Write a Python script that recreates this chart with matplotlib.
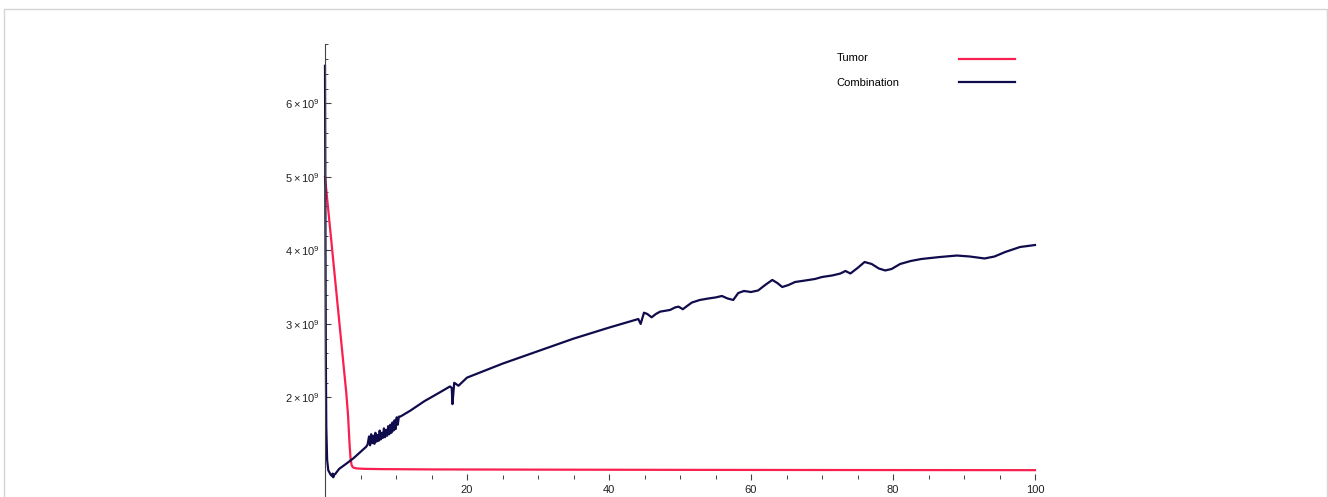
import matplotlib.pyplot as plt
from matplotlib.lines import Line2D
from matplotlib.patches import Rectangle
from matplotlib.ticker import FixedLocator, FuncFormatter

plt.rcParams['font.family'] = ['Liberation Sans', 'DejaVu Sans']
plt.rcParams['mathtext.fontset'] = 'custom'
plt.rcParams['mathtext.rm'] = 'Liberation Sans'
plt.rcParams['mathtext.it'] = 'Liberation Sans'

# time (days) and cell counts (units of 1e9)
tumor_t = [0, 1.0, 2.0, 3.0, 3.25, 3.45, 3.6, 3.75, 3.9, 4.1, 4.5, 5.5, 8, 15, 30, 50, 70, 100]
tumor_v = [5.0, 4.02, 3.04, 2.06, 1.75, 1.38, 1.17, 1.08, 1.055, 1.043, 1.035, 1.03, 1.026,
           1.022, 1.019, 1.016, 1.014, 1.012]

combo_t = [0, 0.03, 0.07, 0.12, 0.18, 0.3, 0.46, 0.8, 1.0, 1.08, 1.17, 1.25, 1.41, 2.0, 3.0, 4.0,
           5.0, 5.8, 6.0, 6.2, 6.35, 6.5, 6.65, 6.8, 6.95, 7.1, 7.25, 7.4, 7.55, 7.7, 7.85, 8.0,
           8.15, 8.3, 8.45, 8.6, 8.75, 8.9, 9.05, 9.2, 9.35, 9.5, 9.65, 9.8, 9.95, 10.1, 10.25,
           10.4, 10.6, 12, 14, 16, 17.6, 17.85, 17.95, 18.2, 18.8, 20, 25, 30, 35, 40, 44.13,
           44.46, 44.93, 45.4, 46.0, 46.6, 47.2, 48.6, 49.3, 49.8, 50.4, 51.0, 51.65, 52.8,
           54.0, 55.0, 55.9, 56.7, 57.5, 58.2, 59.0, 60.0, 61.0, 62.0, 63.0, 63.7, 64.4, 65.3,
           66.2, 67.6, 69.0, 70.0, 71.5, 72.6, 73.3, 74.0, 75.0, 76.0, 77.0, 78.0, 78.9, 79.8,
           81.0, 82.5, 84.0, 86.6, 89.0, 90.8, 92.9, 94.3, 95.8, 97.9, 100]
combo_v = [6.51, 5.5, 4.0, 2.5, 1.6, 1.15, 1.01, 0.95, 0.93, 0.965, 0.915, 0.95, 0.956, 1.03,
           1.10, 1.173, 1.26, 1.33, 1.36, 1.47, 1.35, 1.50, 1.38, 1.48, 1.37, 1.52, 1.40, 1.49,
           1.41, 1.55, 1.43, 1.52, 1.45, 1.58, 1.46, 1.56, 1.48, 1.61, 1.50, 1.63, 1.52, 1.66,
           1.55, 1.69, 1.57, 1.73, 1.63, 1.74, 1.74, 1.82, 1.95, 2.06, 2.15, 2.13, 1.91, 2.20,
           2.16, 2.27, 2.46, 2.63, 2.80, 2.95, 3.067, 3.0, 3.153, 3.135, 3.09, 3.135, 3.167,
           3.19, 3.224, 3.235, 3.2, 3.244, 3.29, 3.326, 3.346, 3.36, 3.38, 3.346, 3.326, 3.42,
           3.448, 3.434, 3.455, 3.53, 3.598, 3.557, 3.502, 3.53, 3.57, 3.59, 3.611, 3.638,
           3.66, 3.686, 3.72, 3.686, 3.76, 3.842, 3.815, 3.754, 3.727, 3.747, 3.815, 3.856,
           3.883, 3.91, 3.93, 3.917, 3.89, 3.917, 3.978, 4.046, 4.073]

y_major = [2, 3, 4, 5, 6]
y_minor = [2.2, 2.4, 2.6, 2.8, 3.2, 3.4, 3.6, 3.8, 4.2, 4.4, 4.6, 4.8,
           5.2, 5.4, 5.6, 5.8, 6.2, 6.4, 6.6, 6.8]
x_major = [20, 40, 60, 80, 100]
x_minor = [5, 10, 15, 25, 30, 35, 45, 50, 55, 65, 70, 75, 85, 90, 95]

red = '#f9204f'
navy = '#100c4c'
axis_col = '#444444'

fig = plt.figure(figsize=(13.28, 4.97), dpi=100)
ax = fig.add_axes([325 / 1328, 0, 710 / 1328, 453 / 497])

ax.plot(tumor_t, [v * 1e9 for v in tumor_v], color=red, lw=1.6, clip_on=False,
        solid_joinstyle='round')
ax.plot(combo_t, [v * 1e9 for v in combo_v], color=navy, lw=1.6, clip_on=False,
        solid_joinstyle='round')

ax.set_xlim(0, 100)
ax.set_ylim(0.647e9, 6.806e9)

for s in ['top', 'right']:
    ax.spines[s].set_visible(False)
ax.spines['left'].set_color(axis_col)
ax.spines['left'].set_linewidth(0.8)
ax.spines['bottom'].set_position(('data', 0.92e9))
ax.spines['bottom'].set_color('none')

ax.yaxis.set_major_locator(FixedLocator([v * 1e9 for v in y_major]))
ax.yaxis.set_minor_locator(FixedLocator([v * 1e9 for v in y_minor]))
ax.yaxis.set_major_formatter(FuncFormatter(lambda v, p: r'$%d\times10^{9}$' % round(v / 1e9)))
ax.xaxis.set_major_locator(FixedLocator(x_major))
ax.xaxis.set_minor_locator(FixedLocator(x_minor))

ax.tick_params(axis='y', which='major', direction='in', length=4, width=0.8,
               color=axis_col, labelsize=8, pad=4, labelcolor='#222222')
ax.tick_params(axis='y', which='minor', direction='in', length=2.4, width=0.7, color=axis_col)
ax.tick_params(axis='x', which='major', direction='inout', length=5, width=0.8,
               color=axis_col, labelsize=8, pad=3, labelcolor='#222222')
ax.tick_params(axis='x', which='minor', direction='inout', length=3, width=0.7, color=axis_col)

# legend: label on the left, line sample on the right
fig.text(837 / 1328, 1 - 58.5 / 497, 'Tumor', fontsize=8, va='center', ha='left')
fig.text(836 / 1328, 1 - 82.5 / 497, 'Combination', fontsize=8, va='center', ha='left')
fig.lines.append(Line2D([959 / 1328, 1015 / 1328], [1 - 59 / 497, 1 - 59 / 497],
                        color=red, lw=1.6, transform=fig.transFigure))
fig.lines.append(Line2D([959 / 1328, 1015 / 1328], [1 - 82 / 497, 1 - 82 / 497],
                        color=navy, lw=1.6, transform=fig.transFigure))

# thin frame around the figure
fig.patches.append(Rectangle((4 / 1328, -0.05), 1323 / 1328, 1.05 - 9 / 497, fill=False,
                             edgecolor='#d4d4d4', lw=1, transform=fig.transFigure))

fig.savefig('out.png', dpi=100)
